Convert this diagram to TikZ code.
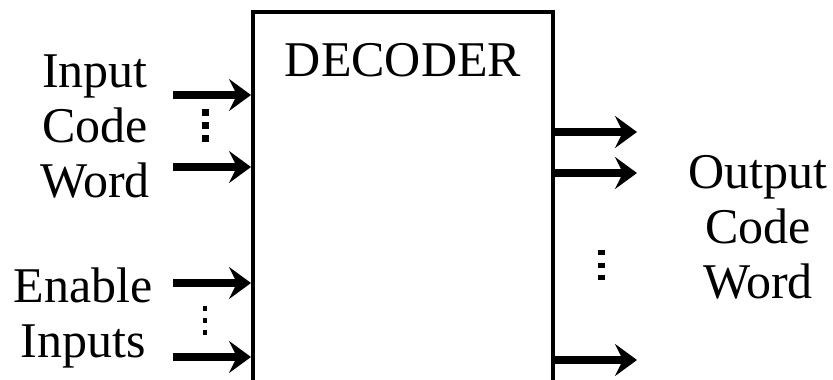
\documentclass[tikz,border=0pt]{standalone}
\usepackage{fontspec}
\setmainfont{Liberation Serif}
\usepackage{tikz}
\usetikzlibrary{positioning, arrows.meta, calc}
\newcommand\bigfont{\fontsize{50}{55}\selectfont}
\tikzset{
  decbox/.style={draw=black, line width=4pt, minimum width=300pt, minimum height=400pt,
    inner sep=0pt, fill=white},
  sig/.style={-{Stealth[length=22pt, width=32pt, inset=8pt]}, line width=8pt, black},
  lab/.style={font=\bigfont, align=center, inner sep=0pt},
  vdot/.style={fill=black, draw=none},
}

\begin{document}
\begin{tikzpicture}[x=1pt, y=-1pt]
  \clip (0,0) rectangle (833,380);
  \fill[white] (0,0) rectangle (833,380);
  % decoder block, runs off the bottom edge
  \node[decbox] (dec) at (403,212) {};
  \node[lab, anchor=base] (title) at ([yshift=-66pt]dec.north) {DECODER};

  % inputs
  \coordinate (in1) at (173,95);
  \coordinate (in2) at (173,167);
  \coordinate (en1) at (173,283);
  \coordinate (en2) at (173,357);
  \foreach \c in {in1,in2,en1,en2}
    \draw[sig] (\c) -- (\c -| dec.west);

  % outputs
  \coordinate (out1) at (637,132);
  \coordinate (out2) at (637,173);
  \coordinate (out3) at (637,360);
  \foreach \c in {out1,out2,out3}
    \draw[sig] (\c -| dec.east) -- (\c);

  % dots
  \foreach \y in {112,125,138}
    \fill[vdot] (201.5,\y-3.5) rectangle ++(7,7);
  \foreach \y in {308,320,332}
    \fill[vdot] (203,\y-2.5) rectangle ++(4,5);
  \foreach \y in {252,265,277}
    \fill[vdot] (597.5,\y-2.5) rectangle ++(7,5);

  % labels (base is the last line)
  \node[lab, anchor=base] (codein) at (95,197) {Input\\Code\\Word};
  \node[lab, anchor=base] (enable) at (83,357) {Enable\\Inputs};
  \node[lab, anchor=base] (codeout) at (758,298) {Output\\Code\\Word};
\end{tikzpicture}
\end{document}
